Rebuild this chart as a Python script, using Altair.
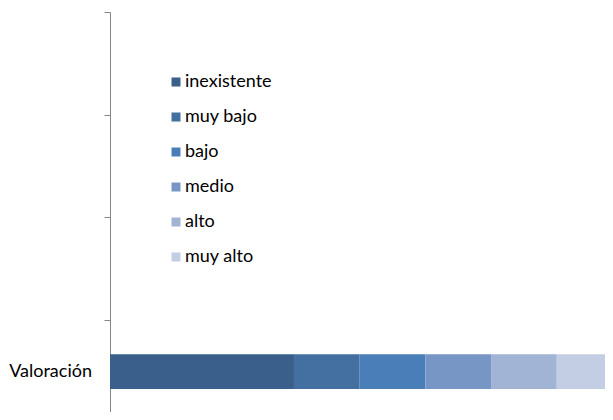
import altair as alt
import pandas as pd

categories = ["inexistente", "muy bajo", "bajo", "medio", "alto", "muy alto"]
values = [28, 10, 10, 10, 10, 10]
colors = ["#3A5F8B", "#436FA1", "#4A7EB8", "#7796C6", "#A1B4D5", "#C3CEE4"]
row_label = "Valoración"
y_ticks = [1, 2, 3, 4]

df = pd.DataFrame({"nivel": categories, "valor": values, "orden": list(range(len(categories)))})

FONT = "Lato"

bars = alt.Chart(df).transform_window(
    fin="sum(valor)", sort=[alt.SortField("orden")], frame=[None, 0]
).transform_calculate(
    ini="datum.fin - datum.valor", y0="0.33", y1="0.67"
).mark_bar(clip=True, strokeWidth=0).encode(
    x=alt.X("ini:Q", scale=alt.Scale(domain=[0, 75.34], nice=False, zero=True), axis=None),
    x2="fin:Q",
    y=alt.Y("y0:Q", scale=alt.Scale(domain=[0.107, 4], nice=False, zero=False),
            axis=alt.Axis(values=y_ticks, labels=False, title=None, grid=False,
                          domainColor="#868686", tickColor="#868686", tickSize=6,
                          domainWidth=1, tickWidth=1)),
    y2="y1:Q",
    color=alt.Color("nivel:N", sort=categories,
                    scale=alt.Scale(domain=categories, range=colors),
                    legend=alt.Legend(title=None, orient="none", legendX=57, legendY=61,
                                      symbolType="square", symbolSize=81, symbolStrokeWidth=0,
                                      labelFontSize=18, labelFont=FONT, labelColor="#000000",
                                      labelOffset=0, rowPadding=17, padding=0)),
)

label = alt.Chart(pd.DataFrame({"t": [row_label]})).mark_text(
    align="right", baseline="middle", fontSize=18, font=FONT, color="#000000"
).encode(
    x=alt.value(-18),
    y=alt.datum(0.5),
    text="t:N",
)

chart = alt.layer(bars, label).properties(
    width=495, height=400,
    autosize=alt.AutoSizeParams(type="none"),
    padding={"left": 102, "top": 4, "right": 0, "bottom": 0},
).configure_view(stroke=None)

chart.save("out.html", embed_options={"renderer": "svg", "actions": False})
